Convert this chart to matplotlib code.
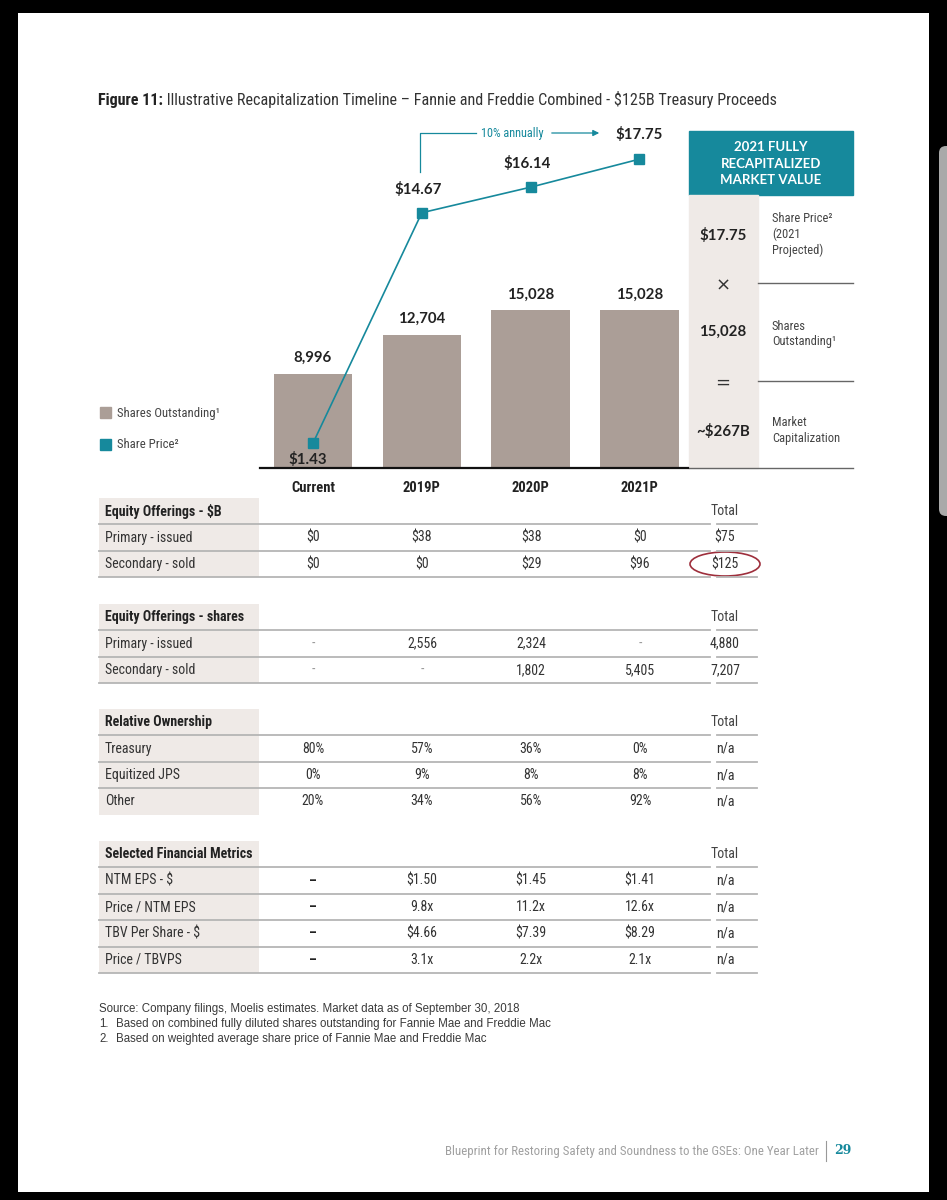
import matplotlib
matplotlib.use("Agg")
import matplotlib.pyplot as plt
from matplotlib import font_manager as fm
from matplotlib.patches import Rectangle, Ellipse, FancyBboxPatch

# ---- chart data ----
years = ["Current", "2019P", "2020P", "2021P"]
shares_out = [8996, 12704, 15028, 15028]
share_price = [1.43, 14.67, 16.14, 17.75]

mv_values = ["$17.75", "15,028", "~$267B"]
mv_ops = ["\u00d7", "="]
mv_desc = [["Share Price\u00b2", "(2021", "Projected)"],
           ["Shares", "Outstanding\u00b9"],
           ["Market", "Capitalization"]]

# ---- table data ----
eqb_rows = ["Primary - issued", "Secondary - sold"]
eqb_vals = [["$0", "$38", "$38", "$0"], ["$0", "$0", "$29", "$96"]]
eqb_total = ["$75", "$125"]

eqs_rows = ["Primary - issued", "Secondary - sold"]
eqs_vals = [["-", "2,556", "2,324", "-"], ["-", "-", "1,802", "5,405"]]
eqs_total = ["4,880", "7,207"]

own_rows = ["Treasury", "Equitized JPS", "Other"]
own_vals = [["80%", "57%", "36%", "0%"], ["0%", "9%", "8%", "8%"], ["20%", "34%", "56%", "92%"]]
own_total = ["n/a", "n/a", "n/a"]

fin_rows = ["NTM EPS - $", "Price / NTM EPS", "TBV Per Share - $", "Price / TBVPS"]
fin_vals = [["\u2013", "$1.50", "$1.45", "$1.41"], ["\u2013", "9.8x", "11.2x", "12.6x"],
            ["\u2013", "$4.66", "$7.39", "$8.29"], ["\u2013", "3.1x", "2.2x", "2.1x"]]
fin_total = ["n/a", "n/a", "n/a", "n/a"]

notes = ["Source: Company filings, Moelis estimates. Market data as of September 30, 2018",
         "Based on combined fully diluted shares outstanding for Fannie Mae and Freddie Mac",
         "Based on weighted average share price of Fannie Mae and Freddie Mac"]

TEAL = "#16899c"
TAUPE = "#ab9e97"
LABEL_BG = "#efeae7"
RULE = "#b5b5b5"
TXT = "#333333"


def pick_narrow():
    names = {f.name for f in fm.fontManager.ttflist}
    for name in ["Liberation Sans Narrow", "Roboto Condensed", "Open Sans Condensed"]:
        if name in names:
            return dict(family=name)
    if any(f.name == "DejaVu Sans" and f.stretch == "condensed" for f in fm.fontManager.ttflist):
        return dict(family="DejaVu Sans", fontstretch="condensed")
    return dict(family="Roboto")


narrow = pick_narrow()
W, H = 947, 1200


def fig_box(x0, y0, x1, y1):
    return [x0 / W, 1 - y1 / H, (x1 - x0) / W, (y1 - y0) / H]


fig = plt.figure(figsize=(9.47, 12), dpi=100, facecolor="black")
page = fig.add_axes([0, 0, 1, 1])
page.set_xlim(0, W)
page.set_ylim(H, 0)
page.axis("off")
page.set_zorder(0)
page.add_patch(Rectangle((18, 13), 911, 1179, facecolor="white", edgecolor="none"))
page.add_patch(FancyBboxPatch((939, 146), 16, 370, boxstyle="round,pad=0,rounding_size=7",
                              facecolor="#a9a9a9", edgecolor="none", clip_on=False))

# title
t1 = page.text(98, 100, "Figure 11:", fontsize=11.6, fontweight="bold", color="#222",
               va="center", **narrow)
page.annotate(" Illustrative Recapitalization Timeline \u2013 Fannie and Freddie Combined - $125B Treasury Proceeds",
              xy=(1, 0), xycoords=t1, va="bottom", fontsize=11.6, color="#333", **narrow)

# ---- bar + line chart ----
ax = fig.add_axes(fig_box(260, 120, 688, 468))
ax.set_zorder(1)
ax.patch.set_alpha(0)
xs = list(range(len(years)))
bars = ax.bar(xs, shares_out, width=0.72, color=TAUPE)
ax.set_xlim(-0.487, 3.446)
ax.set_ylim(0, 33200)
ax.bar_label(bars, labels=[f"{v:,}" for v in shares_out], padding=6.5, fontsize=10.8,
             fontweight="bold", family="Lato", color="#222")
ax.set_xticks(xs, years)
ax.tick_params(axis="x", length=0, pad=9)
for lbl in ax.get_xticklabels():
    lbl.set(fontsize=10.5, fontweight="bold", color="#222", **narrow)
ax.set_yticks([])
for side in ["top", "left", "right"]:
    ax.spines[side].set_visible(False)
ax.spines["bottom"].set_linewidth(1.6)
ax.spines["bottom"].set_color("#111")

axp = ax.twinx()
axp.set_zorder(2)
axp.plot(xs, share_price, color=TEAL, lw=1.2, marker="s", ms=7, mfc=TEAL, mec=TEAL)
axp.set_ylim(0, 20)
axp.axis("off")
label_offsets = [(-5, -16), (-4, 23), (-4, 24), (0, 25)]
for xi, p, off in zip(xs, share_price, label_offsets):
    axp.annotate(f"${p:.2f}", xy=(xi, p), xytext=off, textcoords="offset pixels",
                 ha="center", va="center", fontsize=10.8, fontweight="bold",
                 family="Lato", color="#222")

# growth bracket
page.plot([420, 420, 476], [172, 133, 133], color=TEAL, lw=0.9)
page.text(512, 134, "10% annually", color=TEAL, fontsize=8.8, ha="center", va="center", **narrow)
page.annotate("", xy=(602, 133), xytext=(549, 133),
              arrowprops=dict(arrowstyle="-|>", color=TEAL, lw=0.9, mutation_scale=9))

# legend
page.add_patch(Rectangle((100, 407), 11, 11, color=TAUPE))
page.text(117, 413, "Shares Outstanding\u00b9", fontsize=9.2, color="#444", va="center", **narrow)
page.add_patch(Rectangle((100, 439), 11, 11, color=TEAL))
page.text(117, 445, "Share Price\u00b2", fontsize=9.2, color="#444", va="center", **narrow)

# ---- right panel ----
page.add_patch(Rectangle((689, 131), 164, 64, color=TEAL))
for i, line in enumerate(["2021 FULLY", "RECAPITALIZED", "MARKET VALUE"]):
    page.text(771, 147 + 16.5 * i, line, color="white", fontweight="bold", fontsize=9.5,
              ha="center", va="center", family="Lato")
page.add_patch(Rectangle((689, 195), 69, 273, color=LABEL_BG))
page.plot([758, 853], [283, 283], color="#666", lw=1)
page.plot([758, 853], [381, 381], color="#666", lw=1)
page.plot([689, 853], [468, 468], color="#666", lw=1)
for yv, val in zip([236, 332, 431], mv_values):
    page.text(723, yv, val, fontsize=10.8, fontweight="bold", family="Lato", color="#222",
              ha="center", va="center")
for yv, op in zip([286, 383], mv_ops):
    page.text(723, yv, op, fontsize=13, color="#333", ha="center", va="center")
for y0, block in zip([219, 326, 423], mv_desc):
    for j, line in enumerate(block):
        page.text(772, y0 + 15.5 * j, line, fontsize=9, color="#444", va="center", **narrow)

# ---- tables ----
ROW_H = 26.4
COL_X = [313, 422, 531, 640]
TOT_X = 725
FS = 10


def draw_table(top, title, rows, vals, totals, bottom_rule=True):
    n = len(rows)
    page.add_patch(Rectangle((99, top), 160, ROW_H * (n + 1), color=LABEL_BG, lw=0))
    cy = top + ROW_H / 2
    page.text(105, cy, title, fontweight="bold", fontsize=FS, color="#222", va="center", **narrow)
    page.text(TOT_X, cy, "Total", fontsize=FS, color="#444", ha="center", va="center", **narrow)
    for k in range(n + 1):
        if k == n and not bottom_rule:
            continue
        yl = top + ROW_H * (k + 1)
        page.plot([99, 710], [yl, yl], color=RULE, lw=1.3)
        page.plot([717, 757], [yl, yl], color=RULE, lw=1.3)
    for i, (label, row_vals, tot) in enumerate(zip(rows, vals, totals)):
        yc = top + ROW_H * (i + 1.5)
        page.text(105, yc, label, fontsize=FS, color=TXT, va="center", **narrow)
        for xc, v in zip(COL_X, row_vals):
            kw = dict(color=TXT)
            if v == "-":
                kw = dict(color="#999")
            elif v == "\u2013":
                kw = dict(color="#222", fontweight="bold")
            page.text(xc, yc, v, fontsize=FS, ha="center", va="center", **kw, **narrow)
        page.text(TOT_X, yc, tot, fontsize=FS, color=TXT, ha="center", va="center", **narrow)


draw_table(498, "Equity Offerings - $B", eqb_rows, eqb_vals, eqb_total)
page.add_patch(Ellipse((725, 564), 70, 24, fill=False, edgecolor="#9e2f3c", lw=1.2))
draw_table(604, "Equity Offerings - shares", eqs_rows, eqs_vals, eqs_total)
draw_table(709, "Relative Ownership", own_rows, own_vals, own_total, bottom_rule=False)
draw_table(841, "Selected Financial Metrics", fin_rows, fin_vals, fin_total)

# ---- footnotes ----
page.text(99, 1009, notes[0], fontsize=8.3, color="#3a3a3a", va="center", family="Liberation Sans")
for i, note in enumerate(notes[1:]):
    page.text(99, 1024 + 15 * i, f"{i + 1}.", fontsize=8.3, color="#3a3a3a", va="center",
              family="Liberation Sans")
    page.text(116, 1024 + 15 * i, note, fontsize=8.3, color="#3a3a3a", va="center",
              family="Liberation Sans")

# ---- page footer ----
page.text(819, 1151, "Blueprint for Restoring Safety and Soundness to the GSEs: One Year Later",
          fontsize=9.3, color="#a0a0a0", ha="right", va="center", **narrow)
page.plot([826, 826], [1141, 1161], color="#999", lw=0.8)
page.text(834, 1151, "29", fontsize=9, color=TEAL, fontweight="bold", va="center",
          family="DejaVu Serif")

fig.savefig("out.png", dpi=100, facecolor=fig.get_facecolor())
